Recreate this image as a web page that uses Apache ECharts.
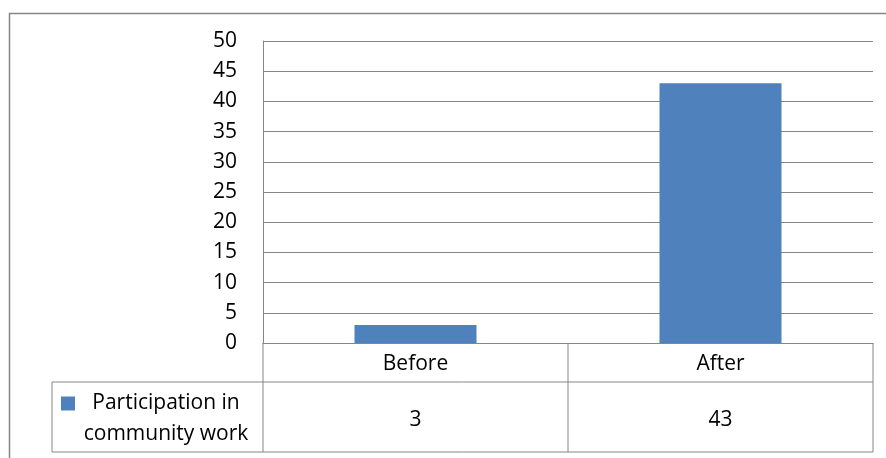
<!DOCTYPE html>
<html>
<head>
<meta charset="utf-8">
<script src="https://cdn.jsdelivr.net/npm/echarts@6/dist/echarts.min.js"></script>
<style>
html,body{margin:0;padding:0;background:#fff;}
#chart{width:886px;height:458px;}
</style>
</head>
<body>
<div id="chart"></div>
<script>
const categories = ['Before', 'After'];
const seriesName = 'Participation in community work';
const values = [3, 43];
const yTicks = [0, 5, 10, 15, 20, 25, 30, 35, 40, 45, 50];

const FONT = '"Open Sans", sans-serif';
const LINE = '#868686';
const chart = echarts.init(document.getElementById('chart'));

const option = {
  animation: false,
  backgroundColor: '#ffffff',
  textStyle: { fontFamily: FONT },
  grid: { left: 263, right: 13, top: 41, bottom: 115 },
  legend: {
    left: 61, top: 357, padding: 0,
    itemWidth: 14, itemHeight: 14, itemGap: 0,
    icon: 'rect',
    data: [seriesName],
    formatter: function () { return '{a|Participation in}\n{a|community work}'; },
    textStyle: {
      color: '#000', fontFamily: FONT, fontSize: 21, lineHeight: 31,
      width: 172, padding: [31, 0, 0, 0],
      rich: { a: { align: 'center', fontSize: 21, lineHeight: 31, fontFamily: FONT, color: '#000' } }
    }
  },
  xAxis: [
    {
      type: 'category', data: categories, position: 'bottom',
      axisLine: { show: true, lineStyle: { color: LINE, width: 1 } },
      axisTick: { show: false },
      axisLabel: { color: '#000', fontSize: 21, lineHeight: 22, margin: 10, fontFamily: FONT }
    },
    {
      type: 'category', data: categories, position: 'bottom',
      axisLine: { show: false }, axisTick: { show: false },
      axisLabel: {
        color: '#000', fontSize: 21, lineHeight: 22, margin: 66, fontFamily: FONT,
        formatter: function (v, i) { return String(values[i]); }
      }
    }
  ],
  yAxis: {
    type: 'value', min: yTicks[0], max: yTicks[yTicks.length - 1], interval: 5,
    axisLine: { show: true, lineStyle: { color: LINE, width: 1 } },
    axisTick: { show: false },
    splitLine: { show: true, lineStyle: { color: LINE, width: 1 } },
    axisLabel: { color: '#000', fontSize: 21, margin: 26, padding: [4, 0, 0, 0], fontFamily: FONT }
  },
  series: [{
    name: seriesName, type: 'bar', data: values, barWidth: '40%',
    itemStyle: { color: '#4F81BD' }
  }]
};
chart.setOption(option);

// Data table borders, derived from the axes' pixel positions
const c0 = chart.convertToPixel({ xAxisIndex: 0 }, 0);
const c1 = chart.convertToPixel({ xAxisIndex: 0 }, 1);
const band = c1 - c0;
const xL = c0 - band / 2, xM = c0 + band / 2, xR = c1 + band / 2;
const y0 = chart.convertToPixel({ yAxisIndex: 0 }, 0);
const yH = y0 + 39, yB = y0 + 109;
const xLeg = 52;
const ls = { stroke: LINE, lineWidth: 1 };
function ln(x1, y1, x2, y2) { return { type: 'line', shape: { x1, y1, x2, y2 }, style: ls, silent: true }; }
chart.setOption({
  graphic: [
    { type: 'rect', shape: { x: 9.5, y: 13.5, width: 900, height: 500 }, style: { fill: null, stroke: LINE, lineWidth: 1.5 }, silent: true, z: -1 },
    ln(xL, y0, xL, yB),
    ln(xM, y0, xM, yB),
    ln(xR, y0, xR, yB),
    ln(xLeg, yH, xR, yH),
    ln(xLeg, yB, xR, yB),
    ln(xLeg, yH, xLeg, yB)
  ]
});
</script>
</body>
</html>
